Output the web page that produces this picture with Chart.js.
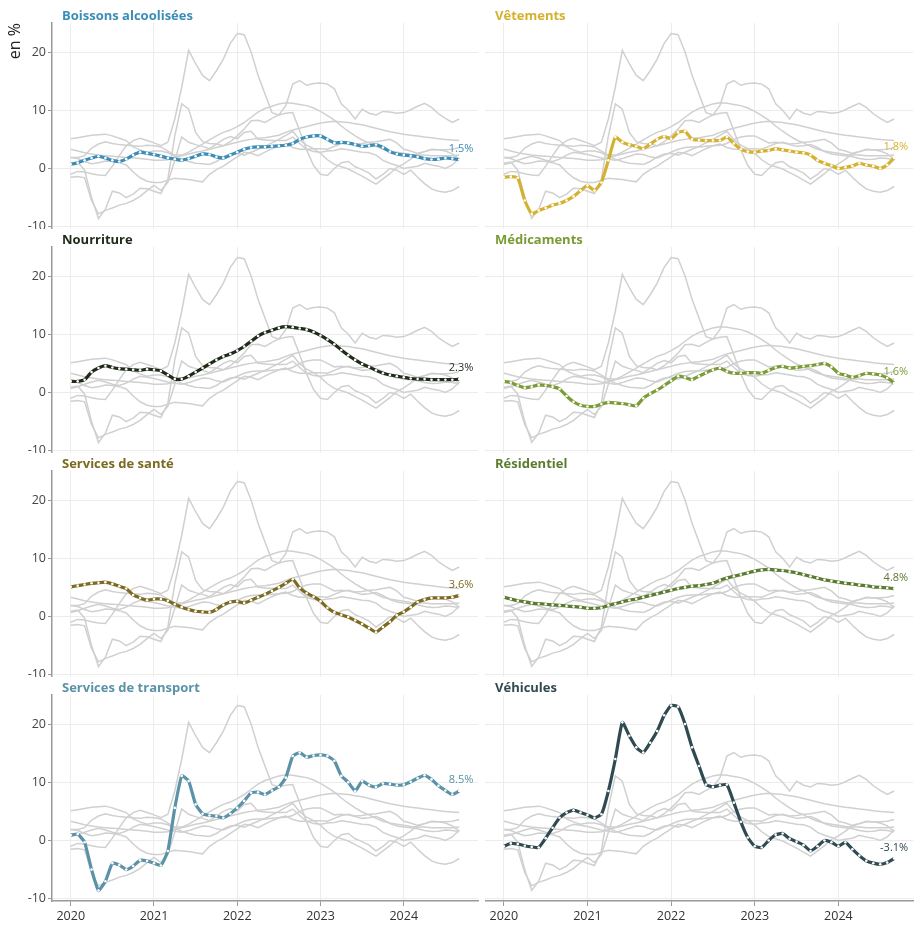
<!DOCTYPE html>
<html lang="fr">
<head>
<meta charset="UTF-8">
<title>Inflation par catégorie</title>
<script src="https://cdn.jsdelivr.net/npm/chart.js"></script>
<style>
    body { margin: 0; background: #fff; font-family: 'Open Sans', sans-serif; }
    #wrap { position: relative; width: 915px; height: 927px; }
    #wrap canvas { position: absolute; }
</style>
</head>
<body>
<div id="wrap"></div>
<script>
// monthly values, Jan 2020 -> Sep 2024 (57 months), in %
const yearLabels = ['2020', '2021', '2022', '2023', '2024'];
const categories = ['Boissons alcoolisées', 'Vêtements', 'Nourriture', 'Médicaments',
    'Services de santé', 'Résidentiel', 'Services de transport', 'Véhicules'];

const boissons = [0.7, 1.0, 1.4, 1.8, 2.1, 1.8, 1.4, 1.2, 1.6, 2.3, 2.8, 2.6, 2.4, 2.1, 1.8, 1.6, 1.4, 1.7, 2.1, 2.5,
    2.4, 2.0, 1.8, 2.3, 2.8, 3.3, 3.6, 3.7, 3.7, 3.8, 3.9, 4.0, 4.3, 5.0, 5.4, 5.6, 5.6, 5.0, 4.4, 4.5,
    4.4, 4.1, 3.8, 3.9, 4.1, 3.6, 2.9, 2.5, 2.3, 2.2, 2.0, 1.7, 1.55, 1.6, 1.8, 1.7, 1.5];
const vetements = [-1.5, -1.4, -1.6, -5.5, -7.8, -7.2, -6.8, -6.3, -6.0, -5.5, -4.8, -3.8, -2.9, -3.8, -2.4, 1.4, 5.4, 4.5, 4.1, 3.8,
    3.4, 4.2, 5.0, 5.5, 5.1, 6.2, 6.4, 5.0, 4.9, 4.8, 4.8, 4.8, 5.4, 4.3, 3.3, 2.9, 2.8, 3.0, 3.1, 3.4,
    3.2, 3.0, 2.8, 2.7, 2.3, 1.4, 0.9, 0.5, 0.0, 0.2, 0.4, 0.9, 0.6, 0.4, 0.0, 0.6, 1.8];
const nourriture = [1.9, 1.9, 2.2, 3.5, 4.2, 4.6, 4.3, 4.1, 4.0, 3.9, 3.8, 4.0, 3.9, 3.7, 3.0, 2.3, 2.3, 2.8, 3.5, 4.2,
    4.9, 5.6, 6.2, 6.6, 7.2, 7.9, 8.8, 9.7, 10.3, 10.7, 11.1, 11.3, 11.2, 11.0, 10.8, 10.4, 9.8, 9.1, 8.3, 7.3,
    6.4, 5.6, 4.9, 4.4, 3.8, 3.3, 3.0, 2.8, 2.6, 2.4, 2.3, 2.3, 2.2, 2.2, 2.2, 2.2, 2.3];
const medicaments = [1.9, 1.7, 1.2, 0.8, 1.0, 1.3, 1.2, 1.0, 0.6, -0.6, -1.6, -2.2, -2.4, -2.4, -2.0, -1.7, -1.8, -1.9, -2.1, -2.3,
    -1.0, -0.2, 0.4, 1.2, 2.0, 2.8, 2.6, 2.2, 2.8, 3.4, 3.9, 4.2, 3.6, 3.3, 3.3, 3.4, 3.4, 3.3, 3.8, 4.3,
    4.5, 4.2, 4.3, 4.5, 4.6, 4.8, 5.0, 4.4, 3.3, 3.0, 2.6, 2.9, 3.3, 3.2, 3.0, 2.5, 1.6];
const sante = [5.1, 5.3, 5.5, 5.7, 5.8, 5.9, 5.6, 5.2, 4.8, 3.7, 3.2, 2.8, 3.0, 3.0, 2.7, 2.1, 1.6, 1.2, 0.9, 0.8,
    0.7, 1.2, 2.0, 2.5, 2.6, 2.3, 2.8, 3.3, 3.8, 4.4, 5.0, 5.7, 6.4, 4.9, 4.0, 3.4, 2.6, 1.5, 0.7, 0.3,
    -0.1, -0.7, -1.3, -2.0, -2.7, -1.8, -0.9, 0.2, 0.8, 1.6, 2.5, 2.9, 3.2, 3.2, 3.2, 3.3, 3.6];
const residentiel = [3.3, 3.0, 2.7, 2.5, 2.3, 2.2, 2.1, 2.0, 1.9, 1.8, 1.7, 1.6, 1.4, 1.4, 1.5, 1.9, 2.2, 2.5, 2.8, 3.0,
    3.3, 3.6, 3.9, 4.2, 4.5, 4.8, 5.0, 5.2, 5.3, 5.5, 5.7, 6.2, 6.6, 6.9, 7.2, 7.5, 7.8, 8.0, 8.1, 8.0,
    7.9, 7.7, 7.5, 7.2, 6.9, 6.6, 6.3, 6.1, 5.9, 5.7, 5.6, 5.4, 5.3, 5.1, 5.0, 4.9, 4.8];
const transport = [0.9, 1.1, -0.3, -5.0, -8.6, -7.0, -3.9, -4.2, -5.0, -4.4, -3.4, -3.5, -3.9, -4.3, -1.8, 5.6, 11.1, 10.2, 6.2, 4.6,
    4.3, 4.2, 3.9, 4.6, 5.6, 6.8, 8.2, 8.3, 7.9, 8.6, 9.2, 10.8, 14.5, 15.1, 14.3, 14.6, 14.7, 14.5, 13.7, 11.1,
    10.0, 8.5, 10.2, 9.5, 9.2, 9.8, 9.7, 9.5, 9.6, 10.1, 10.7, 11.2, 10.5, 9.4, 8.6, 7.9, 8.5];
const vehicules = [-1.0, -0.5, -0.6, -0.9, -1.1, -1.2, 0.4, 2.2, 3.9, 4.8, 5.2, 4.8, 4.4, 3.9, 4.5, 8.5, 14.0, 20.3, 18.0, 16.0,
    15.1, 16.8, 18.8, 21.5, 23.2, 23.0, 20.0, 16.0, 12.8, 9.6, 9.2, 9.5, 9.6, 6.5, 3.2, 0.5, -1.0, -1.2, 0.0, 1.0,
    1.2, 0.3, -0.2, -0.8, -1.8, -1.0, 0.0, -0.3, -1.0, -0.3, -1.5, -2.6, -3.5, -3.9, -4.1, -3.8, -3.1];

const seriesValues = [boissons, vetements, nourriture, medicaments, sante, residentiel, transport, vehicules];
const colors = ['#3b8db6', '#d4b12f', '#1f2b19', '#7b9b36', '#7b6a1f', '#5b7b2f', '#5a92a7', '#2f4a51'];

const toPoints = arr => arr.map((v, i) => ({ x: i, y: v }));

// title + end value label
const panelText = {
    id: 'panelText',
    afterDatasetsDraw(chart, args, opts) {
        const { ctx, chartArea } = chart;
        ctx.save();
        ctx.fillStyle = opts.color;
        ctx.textBaseline = 'middle';
        ctx.font = 'bold 13px "Open Sans"';
        ctx.textAlign = 'left';
        ctx.fillText(opts.title, chartArea.left + 10, chartArea.top - 7);
        const pts = chart.getDatasetMeta(0).data;
        const last = pts[pts.length - 1];
        ctx.font = '11px "Open Sans"';
        ctx.textAlign = 'right';
        ctx.fillText(opts.label, last.x + 14, last.y - 11);
        ctx.restore();
    }
};

const wrap = document.getElementById('wrap');

categories.forEach((name, k) => {
    const col = k % 2, row = Math.floor(k / 2);
    const bottom = row === 3;
    const canvas = document.createElement('canvas');
    const w = col ? 430 : 480, h = bottom ? 255 : 229;
    canvas.width = w; canvas.height = h;
    canvas.style.left = (col ? 485 : 0) + 'px';
    canvas.style.top = (row * 224) + 'px';
    canvas.style.width = w + 'px'; canvas.style.height = h + 'px';
    wrap.appendChild(canvas);

    const datasets = [{
        data: toPoints(seriesValues[k]),
        borderColor: colors[k],
        borderWidth: 3.2,
        pointRadius: 1.3,
        pointBackgroundColor: '#fff',
        pointBorderWidth: 0,
        tension: 0.15,
        order: 0
    }];
    seriesValues.forEach((vals, j) => {
        if (j === k) return;
        datasets.push({
            data: toPoints(vals),
            borderColor: '#d0d0d0',
            borderWidth: 1.5,
            pointRadius: 0,
            tension: 0,
            order: 1
        });
    });

    new Chart(canvas.getContext('2d'), {
        type: 'line',
        data: { datasets },
        plugins: [panelText],
        options: {
            responsive: false,
            animation: false,
            layout: { autoPadding: false, padding: { top: 23, right: 2, left: 0, bottom: 0 } },
            plugins: {
                legend: { display: false },
                tooltip: { enabled: false },
                panelText: { title: name, color: colors[k], label: seriesValues[k][seriesValues[k].length - 1].toFixed(1) + '%' }
            },
            scales: {
                x: {
                    type: 'linear', min: -2.7, max: 58.7,
                    afterBuildTicks: s => { s.ticks = [0, 12, 24, 36, 48].map(v => ({ value: v })); },
                    afterFit: s => { s.height = bottom ? 26 : 0; s.paddingLeft = 0; s.paddingRight = 0; },
                    grid: { color: '#ececec', drawTicks: bottom, tickLength: 5, tickColor: '#999' },
                    border: { display: bottom, color: '#999', width: 1.5 },
                    ticks: {
                        display: bottom, padding: 3, color: '#333', font: { family: 'Open Sans', size: 12.5 },
                        callback: v => yearLabels[v / 12]
                    }
                },
                y: {
                    min: -10.4, max: 25,
                    afterBuildTicks: s => { s.ticks = [-10, 0, 10, 20].map(v => ({ value: v })); },
                    afterFit: s => { s.width = col ? 0 : 52; s.paddingTop = 0; s.paddingBottom = 0; },
                    grid: { color: '#ececec', drawTicks: !col, tickLength: 4, tickColor: '#999' },
                    border: { display: !col, color: '#999', width: 1.5 },
                    ticks: { display: !col, padding: 2, color: '#444', font: { family: 'Open Sans', size: 12.5 } },
                    title: {
                        display: k === 0, text: 'en %', align: 'end', color: '#222',
                        font: { family: 'Open Sans', size: 16 }, padding: { top: 6, bottom: 0 }
                    }
                }
            }
        }
    });
});
</script>
</body>
</html>
